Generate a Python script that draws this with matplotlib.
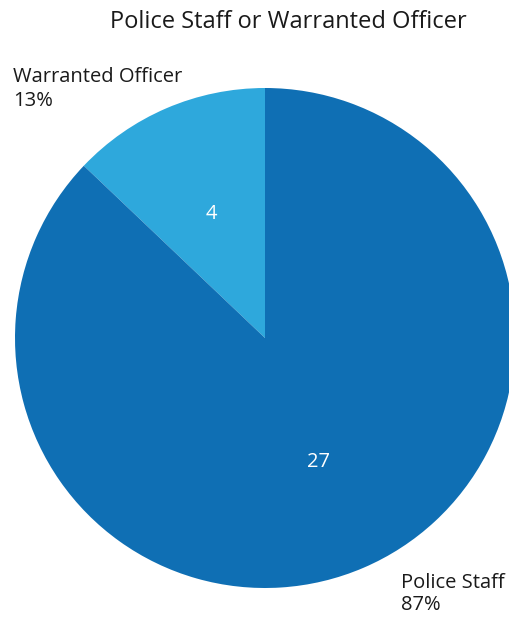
import matplotlib.pyplot as plt

plt.rcParams['font.family'] = ['Open Sans', 'DejaVu Sans']

categories = ['Warranted Officer', 'Police Staff']
counts = [4, 27]
colors = ['#2EA8DC', '#0F6FB4']

total = sum(counts)
percents = [round(100 * c / total) for c in counts]

fig = plt.figure(figsize=(5.09, 6.18), dpi=100)

# pie centred a little right of middle, radius 250 px (runs off the right edge)
cx, cy, r = 265, 338, 250
W, H = 509, 618
ax = fig.add_axes([(cx - r) / W, (H - cy - r) / H, 2 * r / W, 2 * r / H])

wedges, texts, autotexts = ax.pie(
    counts, colors=colors, startangle=90, counterclock=True,
    autopct=lambda p: f'{round(p * total / 100)}', pctdistance=0.54,
    wedgeprops=dict(linewidth=0), radius=1,
    textprops=dict(color='white', fontsize=14.5))
for w in wedges:
    w.set_clip_on(False)
ax.set_xlim(-1, 1)
ax.set_ylim(-1, 1)
ax.set_aspect('equal')
ax.axis('off')

fig.text(288 / W, 1 - 22 / H, 'Police Staff or Warranted Officer',
         ha='center', va='center', fontsize=17, color='#1a1a1a')

fig.text(13 / W, 1 - 89 / H, f'{categories[0]}\n{percents[0]}%',
         ha='left', va='center', fontsize=14.5, color='#1a1a1a', linespacing=1.2)
fig.text(401 / W, 1 - 594 / H, f'{categories[1]}\n{percents[1]}%',
         ha='left', va='center', fontsize=14.5, color='#1a1a1a', linespacing=1.2)

fig.savefig('out.png', dpi=100)
